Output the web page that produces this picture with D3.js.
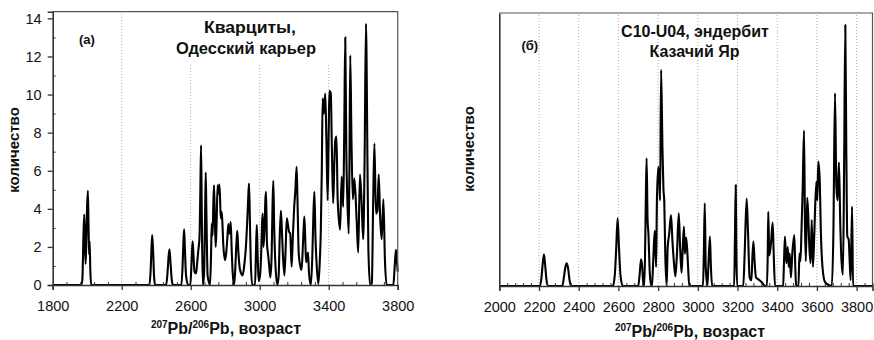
<!DOCTYPE html>
<html><head><meta charset="utf-8">
<script src="https://cdn.jsdelivr.net/npm/d3@7"></script>
<style>
body{margin:0;background:#fff}
text{font-family:"Liberation Sans",Arial,Helvetica,sans-serif;fill:#111}
</style>
</head><body>
<svg id="c" width="874" height="340"></svg>
<script>
// ---- data (age, count) ----
const leftCurve = [
[1800,0],[1965,0],[1972,0.3],[1978,2.5],[1983,3.7],[1987,2.0],[1991,1.1],[1995,2.4],[1999,4.0],[2004,4.95],[2008,3.0],[2011,1.6],[2014,2.3],[2018,0.8],[2023,0],
[2360,0],[2368,0.8],[2373,2.0],[2377,2.62],[2382,1.8],[2388,0.4],[2394,0],
[2458,0],[2466,0.7],[2472,1.5],[2477,1.87],[2482,1.3],[2490,0.3],[2497,0],
[2546,0],[2553,1.0],[2558,2.3],[2562,2.92],[2566,2.0],[2573,0.5],[2585,0],
[2598,0],[2605,1.2],[2611,2.3],[2616,1.6],[2622,0.7],[2631,0.6],[2638,1.2],[2644,1.8],[2651,2.5],[2656,5.0],[2660,7.34],[2664,4.0],[2670,0],[2677,0.5],[2683,3.5],[2687,5.9],[2691,3.8],[2698,0.5],[2712,0],[2718,1.6],[2722,3.23],[2727,2.6],[2731,4.2],[2735,5.24],[2740,3.5],[2745,2.0],[2750,3.2],[2756,5.24],[2762,4.8],[2766,5.28],[2770,4.6],[2774,3.5],[2780,3.85],[2785,3.0],[2789,2.1],[2799,1.3],[2806,1.7],[2812,2.4],[2818,3.2],[2823,2.7],[2828,2.9],[2832,3.3],[2837,2.0],[2843,0.7],[2851,0],[2857,0.6],[2864,2.0],[2870,2.85],[2876,1.8],[2884,0.9],[2893,0.6],[2901,0.5],[2910,1.0],[2920,2.0],[2928,3.4],[2934,4.7],[2938,5.33],[2943,3.5],[2948,1.3],[2957,0],
[2973,0],[2978,1.6],[2983,3.15],[2988,1.6],[2994,0.2],[3002,0.5],[3008,1.5],[3013,3.0],[3017,3.75],[3022,2.0],[3028,3.0],[3033,4.5],[3037,4.9],[3042,2.2],[3050,1.5],[3056,0.9],[3062,0.4],[3069,1.5],[3074,4.0],[3079,5.47],[3084,3.0],[3090,1.3],[3102,0],[3110,0.5],[3116,2.5],[3123,3.9],[3128,3.0],[3133,1.9],[3143,0.5],[3150,1.8],[3157,3.5],[3163,3.2],[3170,2.8],[3177,2.7],[3185,0.96],[3192,2.5],[3200,4.1],[3207,5.0],[3214,6.2],[3219,4.5],[3226,1.7],[3235,1.0],[3243,0.8],[3250,2.0],[3255,3.0],[3259,3.6],[3264,2.4],[3269,1.2],[3276,1.5],[3280,1.7],[3286,0.6],[3297,0],[3305,1.5],[3311,3.6],[3317,4.9],[3323,2.6],[3330,1.1],[3340,0.05],[3348,1.2],[3354,2.7],[3360,6.0],[3365,9.8],[3372,9.0],[3380,10.05],[3386,7.95],[3394,4.45],[3400,8.0],[3404,10.2],[3412,10.05],[3419,6.9],[3426,4.3],[3433,6.5],[3438,7.6],[3445,7.8],[3452,4.5],[3466,2.9],[3475,5.7],[3484,4.1],[3490,8.0],[3496,13.0],[3502,7.1],[3508,4.5],[3516,2.7],[3520,6.0],[3525,12.06],[3532,7.6],[3540,4.5],[3549,5.6],[3562,3.4],[3571,1.7],[3581,5.8],[3590,4.5],[3600,2.4],[3608,6.5],[3616,13.72],[3625,6.2],[3630,1.9],[3640,0],[3650,0.1],[3658,4.5],[3665,7.43],[3674,3.75],[3682,3.9],[3690,5.8],[3698,3.6],[3707,2.4],[3717,4.5],[3726,1.3],[3736,0],[3775,0],[3782,0.9],[3790,1.85],[3796,1.2],[3800,0.7]
];
const rightCurve = [
[2000,0],[2205,0],[2212,0.4],[2219,1.2],[2225,1.67],[2231,1.1],[2238,0.3],[2245,0],
[2317,0],[2326,0.5],[2333,1.0],[2340,1.19],[2347,0.9],[2354,0.3],[2362,0],
[2572,0],[2582,0.6],[2589,2.0],[2596,3.56],[2603,2.0],[2611,0.5],[2622,0],
[2700,0],[2707,0.6],[2714,1.4],[2720,1.0],[2724,0.3],[2730,0],[2734,1.5],[2738,4.5],[2742,6.71],[2747,3.47],[2751,2.8],[2758,0.7],[2765,0],[2769,0],[2776,1.5],[2783,2.9],[2790,1.0],[2794,4.5],[2801,6.27],[2806,5.6],[2810,4.5],[2815,11.36],[2822,7.2],[2827,5.05],[2831,4.5],[2836,1.7],[2843,0],[2848,2.0],[2856,2.76],[2865,3.73],[2872,2.4],[2880,1.2],[2887,0.5],[2895,1.7],[2904,3.82],[2911,2.0],[2918,0.7],[2923,1.7],[2930,3.12],[2935,1.7],[2941,2.55],[2946,2.0],[2951,1.0],[2957,0],
[3026,0],[3030,1.5],[3035,4.35],[3040,1.0],[3048,0],[3053,1.0],[3061,2.6],[3066,1.0],[3072,0],
[3183,0],[3187,2.5],[3191,5.31],[3194,2.0],[3198,0],
[3229,0],[3236,1.7],[3246,4.6],[3253,2.8],[3261,0.45],[3270,0.3],[3275,1.5],[3280,2.33],[3286,1.3],[3293,0.45],[3305,0.35],[3322,0.2],[3339,0],
[3348,0],[3352,1.5],[3355,3.9],[3360,1.6],[3369,2.3],[3377,3.33],[3382,1.8],[3389,0],
[3430,0],[3434,1.2],[3439,2.6],[3446,1.2],[3453,2.05],[3458,1.0],[3463,1.7],[3469,0.45],[3476,1.7],[3486,2.68],[3491,1.0],[3495,0],[3507,0],[3512,1.7],[3517,1.3],[3522,2.8],[3528,5.0],[3535,8.17],[3540,3.1],[3544,1.3],[3551,4.64],[3556,3.8],[3562,2.0],[3568,1.2],[3574,3.47],[3580,1.0],[3587,2.8],[3597,5.48],[3602,4.5],[3607,6.54],[3614,5.6],[3620,2.8],[3628,1.0],[3641,0.2],[3660,0.05],[3675,0],[3683,2.8],[3691,10.13],[3698,5.2],[3704,4.5],[3711,6.5],[3718,3.1],[3724,1.3],[3731,0.6],[3737,6.3],[3743,13.72],[3748,7.2],[3753,2.6],[3760,2.45],[3765,1.3],[3770,0.3],[3777,4.17],[3782,0],[3880,0]
];
const leftXTicks = [1800,2200,2600,3000,3400,3800];
const leftYTicks = [0,2,4,6,8,10,12,14];
const leftGrid = [2200,2600,3000,3400];
const rightXTicks = [2000,2200,2400,2600,2800,3000,3200,3400,3600,3800];
const rightGrid = [2200,2400,2600,2800,3000,3200,3400,3600,3800];
const leftTitle = ["Кварциты,","Одесский карьер"];
const rightTitle = ["С10-U04, эндербит","Казачий Яр"];
const leftTag = "(a)", rightTag = "(б)";
const yLabel = "количество";

const svg = d3.select("#c");

function panel(o){
  const g = svg.append("g");
  const x = d3.scaleLinear().domain(o.xDom).range(o.xRange);
  const y = d3.scaleLinear().domain(o.yDom).range(o.yRange);
  const [x0,x1] = [x(o.xDom[0]), x(o.xDom[1])];
  const [yb,yt] = [y(o.yDom[0]), y(o.yDom[1])];
  g.selectAll("line.grid").data(o.grid).join("line")
    .attr("x1",d=>x(d)).attr("x2",d=>x(d)).attr("y1",yb).attr("y2",yt)
    .attr("stroke","#aaa").attr("stroke-width",1).attr("stroke-dasharray","1,2");
  if(o.titleBg){
    g.append("rect").attr("x",o.titleBg[0]).attr("y",yt+1).attr("width",o.titleBg[1]-o.titleBg[0])
      .attr("height",o.titleBg[2]-yt).attr("fill","#fff");
  }
  const line = d3.line().x(d=>x(d[0])).y(d=>y(d[1])).curve(d3.curveMonotoneX);
  g.append("path").datum(o.data).attr("d",line).attr("fill","none")
    .attr("stroke","#000").attr("stroke-width",2.1).attr("stroke-linejoin","round");
  g.append("path").attr("d",`M${x0},${yt}H${x1}V${yb}`).attr("fill","none")
    .attr("stroke","#555").attr("stroke-width",1.2);
  const ax = g.append("g").attr("transform",`translate(0,${yb})`)
    .call(d3.axisBottom(x).tickValues(o.xTicks).tickSize(5).tickPadding(11).tickFormat(d3.format("d")));
  ax.select(".domain").attr("stroke","#333").attr("stroke-width",1.6);
  ax.selectAll(".tick line").attr("stroke","#333").attr("stroke-width",1.3);
  ax.selectAll("text").attr("font-size",14.5).attr("fill","#222").attr("font-family",'"Liberation Sans",Arial,sans-serif');
  const axm = g.append("g").attr("transform",`translate(0,${yb})`)
    .call(d3.axisBottom(x).tickValues(o.xMinor).tickSize(-3).tickFormat(""));
  axm.select(".domain").remove();
  axm.selectAll(".tick line").attr("stroke","#333").attr("stroke-width",1);
  const ay = g.append("g").attr("transform",`translate(${x0},0)`)
    .call(d3.axisLeft(y).tickValues(o.yTicks).tickSize(o.yTicks.length?5:0).tickPadding(6).tickFormat(d3.format("d")));
  ay.select(".domain").attr("stroke","#333").attr("stroke-width",1.6);
  ay.selectAll(".tick line").attr("stroke","#333").attr("stroke-width",1.3);
  ay.selectAll("text").attr("font-size",14.5).attr("fill","#222").attr("font-family",'"Liberation Sans",Arial,sans-serif');
  if(o.yMinor.length){
    const aym = g.append("g").attr("transform",`translate(${x0},0)`)
      .call(d3.axisLeft(y).tickValues(o.yMinor).tickSize(-3).tickFormat(""));
    aym.select(".domain").remove();
    aym.selectAll(".tick line").attr("stroke","#333").attr("stroke-width",1);
  }
  o.title.forEach((t,i)=>{
    const tx = g.append("text").attr("x",o.titleX[i]).attr("y",o.titleY[i]).attr("text-anchor","middle")
      .attr("font-size",o.titleSize).attr("font-weight","bold").text(t);
    if(o.titleLen) tx.attr("textLength",o.titleLen[i]).attr("lengthAdjust","spacingAndGlyphs");
  });
  g.append("text").attr("x",o.tag[0]).attr("y",o.tag[1]).attr("font-size",13)
    .attr("font-weight","bold").text(o.tagText);
  g.append("text").attr("transform",`translate(${o.yLab[0]},${o.yLab[1]}) rotate(-90)`)
    .attr("text-anchor","middle").attr("font-size",15).attr("font-weight","bold").text(yLabel);
  const xt = g.append("text").attr("x",o.xLab[0]).attr("y",o.xLab[1]).attr("text-anchor","middle")
    .attr("font-size",16).attr("font-weight","bold");
  xt.append("tspan").attr("font-size",10).attr("dy",-6).text("207");
  xt.append("tspan").attr("dy",6).text("Pb/");
  xt.append("tspan").attr("font-size",10).attr("dy",-6).text("206");
  xt.append("tspan").attr("dy",6).text("Pb, возраст");
}

panel({
  data:leftCurve, xDom:[1800,3800], xRange:[52.7,397.7], yDom:[0,14.35], yRange:[285,11.7],
  grid:leftGrid, xTicks:leftXTicks, xMinor:d3.range(1800,3801,80).filter(v=>!leftXTicks.includes(v)),
  yTicks:leftYTicks, yMinor:d3.range(1,15,2),
  titleBg:[165,345,62], title:leftTitle, titleX:[250,246], titleY:[33,53.5], titleSize:16.5, titleLen:[92,140],
  tag:[79,44], tagText:leftTag, yLab:[18.5,150], xLab:[226,334]
});
panel({
  data:rightCurve, xDom:[2000,3880], xRange:[499.3,872.5], yDom:[0,14.35], yRange:[286,13],
  grid:rightGrid, xTicks:rightXTicks, xMinor:d3.range(2000,3881,40).filter(v=>!rightXTicks.includes(v)),
  yTicks:[], yMinor:[],
  titleBg:null, title:rightTitle, titleX:[695,694.5], titleY:[37,56.5], titleSize:16, titleLen:null,
  tag:[521.5,50], tagText:rightTag, yLab:[473.5,149], xLab:[690,337]
});
</script>
</body></html>
